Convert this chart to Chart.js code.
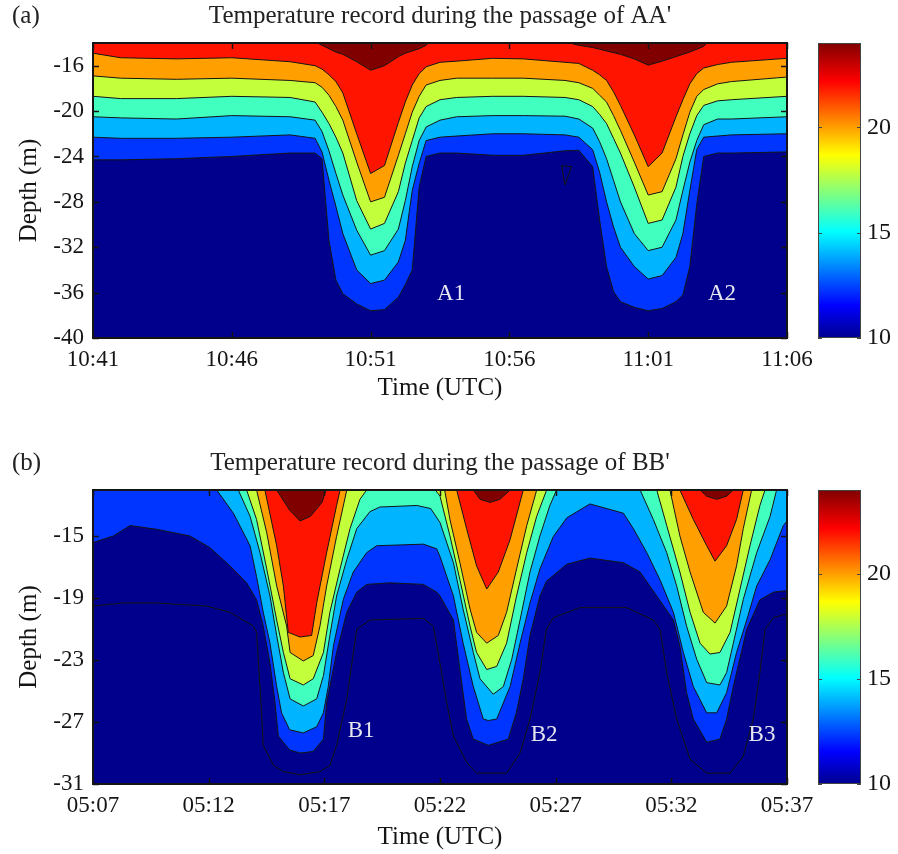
<!DOCTYPE html>
<html>
<head>
<meta charset="utf-8">
<script src="https://cdn.jsdelivr.net/npm/chart.js@4.4.1/dist/chart.umd.min.js"></script>
<style>
  html, body { margin: 0; padding: 0; background: #fff; overflow: hidden; }
  #wrap { position: relative; width: 898px; height: 854px; }
  canvas { position: absolute; }
</style>
</head>
<body>
<div id="wrap">
  <canvas id="panelA" style="left:0;top:0" width="898" height="410"></canvas>
  <canvas id="barA" style="left:800px;top:0" width="98" height="410"></canvas>
  <canvas id="panelB" style="left:0;top:447px" width="898" height="407"></canvas>
  <canvas id="barB" style="left:800px;top:447px" width="98" height="407"></canvas>
</div>
<script>
const FONT = 'Liberation Serif';
const INK = '#151515';

// band colours, coldest to warmest (jet colormap, 10..24 degC)
const bandColors = ['#00008C', '#0034FF', '#00B4FF', '#40FFBF', '#C4FF3C', '#FFA000', '#FF1400', '#800000'];
const jetStops = [[0, '#00008F'], [0.11, '#0000FF'], [0.36, '#00FFFF'], [0.62, '#FFFF00'], [0.87, '#FF0000'], [1, '#800000']];
const barRange = [10, 24];
const barTicks = [10, 15, 20];

// ---- panel (a): minutes after 10:41, isotherm depths (m) ----
const timeA = [0, 1, 3, 5, 7.1, 8, 8.25, 8.5, 8.75, 9, 9.5, 10, 10.5, 11, 11.25, 11.5, 11.75, 12, 12.5, 13.1,
  14.4, 15.5, 17, 17.5, 18, 18.25, 18.5, 18.75, 19, 19.5, 20, 20.5, 21, 21.25, 21.5, 21.75, 22, 22.5, 23, 25];
const a1 = [-24.3, -24.3, -24.2, -24.0, -23.7, -23.7, -24.2, -31.4, -34.9, -36.1, -37.0, -37.6, -37.5, -36.4, -35.3, -34.0, -26.7, -24.0, -23.7, -23.7,
  -23.9, -23.9, -23.5, -23.45, -24.9, -29.6, -33.7, -35.9, -36.8, -37.3, -37.6, -37.4, -36.8, -36.2, -33.7, -28.2, -24.0, -23.7, -23.7, -23.6];
const a2 = [-22.3, -22.4, -22.4, -22.3, -22.1, -22.4, -23.6, -26.1, -28.4, -30.8, -34.0, -35.2, -34.9, -33.3, -31.4, -27.0, -24.6, -22.6, -22.3, -22.2,
  -22.0, -22.0, -22.1, -22.3, -23.4, -25.4, -28.0, -30.2, -32.0, -33.7, -34.8, -34.5, -32.9, -30.8, -27.0, -23.4, -22.3, -22.2, -22.1, -22.0];
const a3 = [-20.5, -20.6, -20.7, -20.4, -20.5, -20.8, -21.8, -23.5, -25.5, -27.4, -30.5, -32.7, -32.3, -30.4, -27.9, -24.9, -22.6, -21.4, -20.8, -20.5,
  -20.4, -20.4, -20.45, -20.7, -21.5, -22.7, -24.2, -26.1, -28.0, -30.8, -32.3, -32.0, -29.6, -27.0, -24.5, -22.6, -21.2, -20.7, -20.7, -20.5];
const a4 = [-18.7, -18.9, -18.9, -18.7, -18.8, -19.2, -20.1, -21.1, -22.3, -23.7, -27.9, -30.4, -29.9, -27.1, -24.6, -22.6, -20.6, -19.6, -19.0, -18.8,
  -18.7, -18.7, -18.8, -19.0, -19.6, -20.3, -21.1, -22.4, -23.7, -26.7, -29.9, -29.6, -26.7, -24.0, -22.0, -20.4, -19.5, -19.1, -19.0, -18.7];
const a5 = [-16.9, -17.1, -17.2, -17.1, -17.3, -17.5, -17.9, -18.6, -19.6, -20.8, -24.5, -28.0, -27.6, -23.9, -22.0, -20.1, -18.7, -17.7, -17.3, -17.1,
  -17.1, -17.1, -17.3, -17.5, -18.0, -18.6, -19.2, -20.4, -21.7, -24.5, -27.4, -27.1, -24.2, -22.1, -20.1, -18.7, -18.1, -17.6, -17.4, -17.0];
const a6 = [-14.9, -15.3, -15.4, -15.3, -15.65, -16.0, -16.3, -16.8, -17.4, -18.4, -22.0, -25.5, -24.8, -21.0, -19.2, -17.7, -16.7, -16.1, -15.7, -15.6,
  -15.35, -15.4, -15.7, -15.8, -16.4, -16.8, -17.3, -18.3, -19.5, -22.1, -24.9, -23.7, -20.5, -19.0, -17.6, -16.7, -16.2, -15.9, -15.7, -15.35];
const a7 = [-13, -13, -13, -13, -13, -13.9, -14.2, -14.5, -14.8, -15.0, -15.65, -16.4, -16.0, -15.2, -14.9, -14.7, -14.5, -14.2, -13, -13,
  -13, -13, -13.9, -14.2, -14.4, -14.55, -14.7, -14.85, -15.0, -15.4, -15.95, -15.6, -15.2, -15.0, -14.8, -14.55, -14.3, -13, -13, -13];
const notchA = [[16.88, -24.8], [17.24, -24.9], [17.0, -26.5], [16.88, -24.8]];

const xTicksA = [0, 5, 10, 15, 20, 25];
const xLabelsA = ['10:41', '10:46', '10:51', '10:56', '11:01', '11:06'];
const yTicksA = [-16, -20, -24, -28, -32, -36, -40];
const troughLabelsA = [['A1', 12.9, -36.1], ['A2', 22.66, -36.1]];

// ---- panel (b): [minutes after 05:07, depth] along each isotherm ----
const b0 = [[0, -19.5], [1.31, -19.3], [2.75, -19.3], [4.91, -19.5], [5.92, -19.9], [6.93, -20.8], [7.07, -21.2], [7.22, -24.7], [7.36, -28.5],
  [7.8, -29.8], [8.23, -30.2], [8.95, -30.4], [9.81, -30.2], [10.24, -29.8], [10.53, -28.5], [10.97, -25.5], [11.4, -21.0], [11.97, -20.4],
  [14.28, -20.3], [14.71, -20.8], [15.0, -23.2], [15.29, -25.75], [15.58, -27.9], [16.15, -29.6], [16.58, -30.3], [17.88, -30.3], [18.46, -29.0],
  [18.89, -26.8], [19.32, -23.8], [19.6, -21.0], [19.9, -20.25], [21.05, -19.6], [23.07, -19.6], [24.22, -20.4], [24.51, -21.0], [24.8, -23.8],
  [25.23, -26.8], [25.81, -29.4], [26.53, -30.3], [27.54, -30.3], [28.11, -29.2], [28.54, -26.8], [28.83, -23.8], [29.05, -21.0], [29.41, -20.25], [30, -20.0]];
const b1 = [[0, -15.4], [0.88, -14.97], [1.6, -14.3], [2.75, -14.54], [4.19, -14.97], [5.06, -15.73], [5.92, -16.9], [6.64, -18.0], [7.07, -19.1],
  [7.36, -20.8], [7.65, -23.2], [7.87, -25.75], [8.01, -27.9], [8.5, -28.8], [8.95, -29.0], [9.52, -28.9], [9.96, -28.1], [10.1, -25.75],
  [10.53, -22.5], [10.97, -19.9], [11.4, -18.6], [11.83, -18.1], [12.84, -18.0], [14.28, -18.1], [14.86, -18.6], [15.0, -18.85], [15.58, -20.4],
  [15.86, -23.6], [16.15, -26.8], [16.44, -28.1], [17.09, -28.5], [17.95, -28.1], [18.3, -26.4], [18.6, -24.2], [18.89, -21.4], [19.32, -18.85],
  [19.6, -17.9], [20.48, -16.8], [21.48, -16.4], [22.93, -16.7], [23.65, -17.3], [24.37, -18.85], [25.09, -20.4], [25.37, -22.1], [25.66, -25.1],
  [25.95, -26.8], [26.53, -28.3], [27.1, -28.1], [27.39, -26.8], [27.68, -24.7], [28.26, -21.0], [28.83, -19.1], [29.41, -18.6], [30, -18.5]];
const b2 = [[0, -11], [5.2, -11], [5.35, -12], [6.07, -13.5], [6.79, -15.6], [7.07, -17.6], [7.36, -19.9], [7.65, -21.9], [7.94, -24.7],
  [8.15, -26.4], [8.5, -27.5], [9.09, -27.7], [9.67, -27.3], [9.96, -26.4], [10.17, -24.7], [10.39, -22.1], [10.82, -19.07], [11.25, -17.3],
  [11.83, -16.05], [12.26, -15.6], [14.28, -15.5], [14.86, -15.8], [15.0, -16.3], [15.58, -18.85], [16.0, -21.9], [16.44, -24.7], [16.87, -26.8],
  [17.09, -26.9], [17.45, -26.8], [18.03, -24.7], [18.46, -21.9], [18.89, -19.3], [19.32, -17.1], [19.9, -15.0], [20.48, -13.8], [21.48, -12.9],
  [22.93, -13.5], [23.36, -14.5], [23.94, -16.05], [24.51, -17.8], [25.09, -19.9], [25.52, -22.5], [25.95, -24.7], [26.53, -26.4], [26.96, -26.4],
  [27.39, -25.1], [27.82, -22.5], [28.26, -20.4], [28.69, -18.2], [29.27, -16.5], [29.84, -14.3], [30, -14.0]];
const b3 = [[0, -11], [6.1, -11], [6.28, -12], [6.79, -13.7], [7.22, -16.05], [7.65, -18.85], [7.94, -21.4], [8.23, -23.8], [8.52, -25.5],
  [9.09, -25.96], [9.67, -25.5], [9.96, -24.0], [10.24, -21.4], [10.53, -18.85], [10.97, -16.5], [11.4, -14.5], [11.97, -13.4], [12.4, -13.1],
  [14.0, -13.0], [14.6, -13.2], [15.0, -14.1], [15.58, -16.7], [16.0, -19.7], [16.44, -22.5], [16.73, -24.2], [17.3, -25.2], [17.74, -24.7],
  [18.1, -22.95], [18.46, -20.4], [18.89, -17.3], [19.32, -14.97], [19.75, -13.0], [20.04, -12], [20.2, -11], [23.5, -11], [23.65, -12],
  [24.22, -13.9], [24.8, -16.05], [25.23, -18.2], [25.66, -20.8], [26.1, -22.95], [26.53, -24.45], [27.1, -24.6], [27.39, -23.8], [27.68, -21.9],
  [28.11, -19.07], [28.69, -16.05], [29.27, -13.7], [29.55, -12], [29.7, -11], [30, -11]];
const b4 = [[0, -11], [6.5, -11], [6.64, -12], [7.07, -13.9], [7.51, -17.1], [7.94, -20.4], [8.23, -22.5], [8.52, -24.2], [9.09, -24.6],
  [9.52, -24.2], [9.96, -22.5], [10.24, -19.9], [10.68, -17.1], [11.11, -14.5], [11.54, -12.6], [11.83, -12], [12.0, -11], [14.6, -11],
  [14.8, -12], [15.0, -12.4], [15.43, -14.97], [15.86, -17.8], [16.3, -20.8], [16.58, -22.5], [17.02, -23.6], [17.45, -23.4], [17.88, -21.9],
  [18.31, -18.85], [18.75, -16.05], [19.18, -13.7], [19.61, -12], [19.8, -11], [24.2, -11], [24.37, -12], [24.8, -14.3], [25.37, -17.3],
  [25.81, -19.9], [26.24, -21.9], [26.67, -22.6], [27.1, -22.5], [27.54, -21.2], [27.97, -18.4], [28.4, -15.6], [28.83, -13.0], [29.05, -12],
  [29.2, -11], [30, -11]];
const b5 = [[0, -11], [6.9, -11], [7.07, -12], [7.51, -14.76], [7.94, -18.2], [8.37, -20.8], [8.52, -22.5], [9.09, -23.05], [9.52, -22.7],
  [9.81, -20.8], [10.1, -18.2], [10.53, -15.0], [10.97, -12], [11.1, -11], [15.0, -11], [15.2, -12], [15.43, -13.9], [15.86, -16.7], [16.3, -19.7],
  [16.58, -21.2], [17.02, -21.9], [17.52, -21.4], [17.88, -19.9], [18.31, -17.1], [18.75, -14.3], [19.18, -12], [19.3, -11], [24.8, -11],
  [24.94, -12], [25.37, -14.97], [25.81, -17.3], [26.38, -19.9], [26.89, -20.6], [27.39, -19.5], [27.82, -16.9], [28.11, -14.5], [28.47, -12],
  [28.6, -11], [30, -11]];
const b6 = [[0, -11], [7.3, -11], [7.43, -12], [7.94, -15.6], [8.23, -18.2], [8.44, -21.2], [8.95, -21.5], [9.45, -21.4], [9.67, -19.3],
  [10.1, -16.05], [10.53, -13.0], [10.68, -12], [10.8, -11], [15.6, -11], [15.72, -12], [16.15, -14.5], [16.58, -16.9], [17.02, -18.4],
  [17.52, -17.3], [18.03, -15.2], [18.6, -12], [18.7, -11], [25.2, -11], [25.37, -12], [25.95, -13.9], [26.53, -15.6], [26.89, -16.6],
  [27.39, -15.6], [27.82, -13.9], [28.11, -12], [28.25, -11], [30, -11]];
const b7 = [[0, -11], [7.8, -11], [7.94, -12], [8.5, -13.3], [8.95, -14.0], [9.4, -13.7], [9.9, -12.8], [10.07, -12], [10.2, -11],
  [16.3, -11], [16.44, -12], [16.73, -12.6], [17.16, -12.8], [17.59, -12.6], [18.03, -12], [18.2, -11], [26.1, -11], [26.24, -12],
  [26.53, -12.4], [26.96, -12.6], [27.39, -12.4], [27.68, -12], [27.8, -11], [30, -11]];

const xTicksB = [0, 5, 10, 15, 20, 25, 30];
const xLabelsB = ['05:07', '05:12', '05:17', '05:22', '05:27', '05:32', '05:37'];
const yTicksB = [-15, -19, -23, -27, -31];
const troughLabelsB = [['B1', 11.59, -27.6], ['B2', 19.5, -27.8], ['B3', 28.92, -27.8]];

const toPts = arr => arr.map(([x, y]) => ({ x, y }));
const onGrid = (time, depths) => depths.map((d, k) => ({ x: time[k], y: d }));

// dark-blue floor, inward ticks, frame box, titles and trough names
const panelDecor = {
  id: 'panelDecor',
  beforeDatasetsDraw(chart) {
    const { ctx, chartArea: a } = chart;
    ctx.save();
    ctx.fillStyle = bandColors[0];
    ctx.fillRect(a.left, a.top, a.right - a.left, a.bottom - a.top);
    ctx.restore();
  },
  afterDraw(chart, args, opts) {
    const { ctx, chartArea: a, scales } = chart;
    ctx.save();
    ctx.strokeStyle = INK;
    ctx.lineWidth = 1.5;
    ctx.beginPath();
    scales.x.ticks.forEach(t => {
      const px = Math.round(scales.x.getPixelForValue(t.value)) + 0.5;
      ctx.moveTo(px, a.bottom); ctx.lineTo(px, a.bottom - 6);
      ctx.moveTo(px, a.top); ctx.lineTo(px, a.top + 6);
    });
    scales.y.ticks.forEach(t => {
      const py = Math.round(scales.y.getPixelForValue(t.value)) + 0.5;
      ctx.moveTo(a.left, py); ctx.lineTo(a.left + 6, py);
      ctx.moveTo(a.right, py); ctx.lineTo(a.right - 6, py);
    });
    ctx.stroke();
    ctx.lineWidth = 2;
    ctx.strokeRect(a.left, a.top, a.right - a.left, a.bottom - a.top);

    ctx.fillStyle = '#222';
    ctx.textBaseline = 'alphabetic';
    ctx.font = '25px "' + FONT + '"';
    ctx.textAlign = 'center';
    ctx.fillText(opts.title, (a.left + a.right) / 2, 23);
    ctx.textAlign = 'left';
    ctx.fillText(opts.tag, 12, 23);

    ctx.fillStyle = '#E6E6F0';
    ctx.font = '23px "' + FONT + '"';
    ctx.textAlign = 'center';
    ctx.textBaseline = 'middle';
    opts.names.forEach(([txt, t, d]) => {
      ctx.fillText(txt, scales.x.getPixelForValue(t), scales.y.getPixelForValue(d));
    });
    ctx.restore();
  }
};

function panelChart(id, o) {
  const n = o.lines.length;
  const sets = o.lines.map((pts, i) => ({
    data: pts,
    fill: 'end',
    backgroundColor: o.colors[i],
    borderColor: INK,
    borderWidth: 1,
    pointRadius: 0,
    tension: 0,
    order: n - i + 1
  }));
  (o.extra || []).forEach(pts => sets.push({
    data: pts, fill: false, borderColor: INK, borderWidth: 1, pointRadius: 0, tension: 0, order: 0
  }));
  return new Chart(document.getElementById(id), {
    type: 'line',
    data: { datasets: sets },
    options: {
      responsive: false,
      animation: false,
      events: [],
      layout: { padding: { left: 0, top: 43, right: 111, bottom: 0 } },
      plugins: {
        legend: { display: false },
        tooltip: { enabled: false },
        panelDecor: { title: o.title, tag: o.tag, names: o.names }
      },
      scales: {
        x: {
          type: 'linear',
          min: o.xTicks[0],
          max: o.xTicks[o.xTicks.length - 1],
          grid: { display: false, drawTicks: false },
          border: { display: false },
          afterBuildTicks: s => { s.ticks = o.xTicks.map(v => ({ value: v })); },
          afterFit: s => { s.height = o.xHeight; },
          ticks: {
            padding: 8, color: INK, maxRotation: 0, autoSkip: false,
            font: { family: FONT, size: 23 },
            callback: v => o.xLabels[o.xTicks.indexOf(v)]
          },
          title: {
            display: true, text: 'Time (UTC)', color: INK,
            font: { family: FONT, size: 25 }, padding: { top: 0, bottom: o.titlePad }
          }
        },
        y: {
          type: 'linear',
          min: o.yMin,
          max: o.yMax,
          grid: { display: false, drawTicks: false },
          border: { display: false },
          afterBuildTicks: s => { s.ticks = o.yTicks.map(v => ({ value: v })); },
          afterFit: s => { s.width = 93; },
          ticks: { padding: 9, color: INK, font: { family: FONT, size: 23 } },
          title: {
            display: true, text: 'Depth (m)', color: INK,
            font: { family: FONT, size: 25 }, padding: { top: 14, bottom: 0 }
          }
        }
      }
    },
    plugins: [panelDecor]
  });
}

const barDecor = {
  id: 'barDecor',
  afterDraw(chart) {
    const { ctx, chartArea: a, scales } = chart;
    ctx.save();
    ctx.strokeStyle = '#444';
    ctx.lineWidth = 1;
    ctx.beginPath();
    scales.y.ticks.forEach(t => {
      const py = Math.round(scales.y.getPixelForValue(t.value)) + 0.5;
      ctx.moveTo(a.left, py); ctx.lineTo(a.left + 4, py);
      ctx.moveTo(a.right, py); ctx.lineTo(a.right - 4, py);
    });
    ctx.stroke();
    ctx.strokeRect(a.left + 0.5, a.top + 0.5, a.right - a.left - 1, a.bottom - a.top - 1);
    ctx.restore();
  }
};

function jetFill(c) {
  const a = c.chart.chartArea;
  if (!a) return bandColors[0];
  const g = c.chart.ctx.createLinearGradient(0, a.bottom, 0, a.top);
  jetStops.forEach(([p, col]) => g.addColorStop(p, col));
  return g;
}

function colorBar(id, bottomPad) {
  return new Chart(document.getElementById(id), {
    type: 'bar',
    data: {
      labels: [''],
      datasets: [{
        data: [barRange],
        backgroundColor: jetFill,
        borderWidth: 0,
        barPercentage: 1,
        categoryPercentage: 1
      }]
    },
    options: {
      responsive: false,
      animation: false,
      events: [],
      layout: { padding: { left: 18, top: 43, right: 0, bottom: bottomPad } },
      plugins: { legend: { display: false }, tooltip: { enabled: false } },
      scales: {
        x: { display: false },
        y: {
          position: 'right',
          min: barRange[0],
          max: barRange[1],
          grid: { display: false, drawTicks: false },
          border: { display: false },
          afterBuildTicks: s => { s.ticks = barTicks.map(v => ({ value: v })); },
          afterFit: s => { s.width = 37; },
          ticks: { padding: 6, color: INK, font: { family: FONT, size: 24 } }
        }
      }
    },
    plugins: [barDecor]
  });
}

panelChart('panelA', {
  title: "Temperature record during the passage of AA'",
  tag: '(a)',
  lines: [a1, a2, a3, a4, a5, a6, a7].map(d => onGrid(timeA, d)),
  colors: bandColors.slice(1),
  extra: [toPts(notchA)],
  names: troughLabelsA,
  xTicks: xTicksA, xLabels: xLabelsA,
  yTicks: yTicksA, yMin: -40, yMax: -14,
  xHeight: 72, titlePad: 7
});

panelChart('panelB', {
  title: "Temperature record during the passage of BB'",
  tag: '(b)',
  lines: [b0, b1, b2, b3, b4, b5, b6, b7].map(toPts),
  colors: bandColors,
  names: troughLabelsB,
  xTicks: xTicksB, xLabels: xLabelsB,
  yTicks: yTicksB, yMin: -31, yMax: -12,
  xHeight: 70, titlePad: 2
});

colorBar('barA', 72);
colorBar('barB', 70);
</script>
</body>
</html>
